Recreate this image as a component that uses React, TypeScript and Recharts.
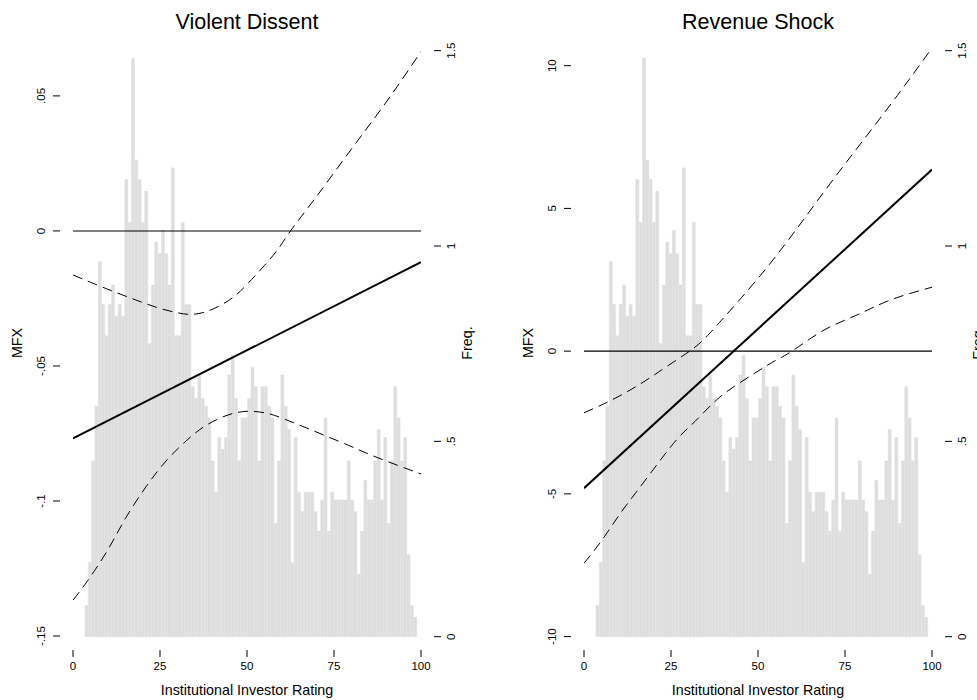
import React from "react";
import { ComposedChart, Bar, Line, XAxis, YAxis } from "recharts";

// histogram of the rating, 100 equal bins from 3.45 to 98.85 (right axis, "Freq.")
const binStart = 3.45;
const binEnd = 98.85;
const binFreq = [
  0.08, 0.19, 0.45, 0.59, 0.96, 0.85, 0.77, 0.85, 0.9, 0.82,
  0.85, 0.82, 1.17, 1.06, 1.48, 1.22, 1.17, 1.06, 1.14, 0.75,
  0.9, 1.01, 0.98, 1.04, 0.98, 0.9, 1.2, 0.77, 0.77, 1.06,
  0.85, 0.85, 0.64, 0.61, 0.67, 0.61, 0.59, 0.56, 0.45, 0.37,
  0.51, 0.48, 0.51, 0.67, 0.72, 0.61, 0.45, 0.56, 0.56, 0.61,
  0.69, 0.64, 0.45, 0.64, 0.64, 0.59, 0.56, 0.29, 0.45, 0.67,
  0.59, 0.53, 0.19, 0.51, 0.37, 0.32, 0.37, 0.37, 0.37, 0.32,
  0.27, 0.35, 0.56, 0.27, 0.37, 0.35, 0.35, 0.35, 0.35, 0.45,
  0.35, 0.32, 0.16, 0.27, 0.4, 0.35, 0.35, 0.45, 0.53, 0.35,
  0.51, 0.29, 0.45, 0.64, 0.56, 0.45, 0.51, 0.21, 0.08, 0.05,
];

const ratingTicks = [0, 25, 50, 75, 100];
const freqTicks = [0, 0.5, 1, 1.5];
const freqTickLabels = ["0", ".5", "1", "1.5"];

// zero reference line
const zeroLine = [
  [0, 0],
  [100, 0],
];

// Violent Dissent
const vdTicks = [-0.15, -0.1, -0.05, 0, 0.05];
const vdTickLabels = ["-.15", "-.1", "-.05", "0", ".05"];
const vdEstimate = [
  [0, -0.0768],
  [100, -0.0116],
];
const vdUpper = [
  [0, -0.0163], [5, -0.019], [10, -0.0216], [15, -0.0241], [20, -0.0265],
  [25, -0.0287], [30, -0.0303], [34, -0.0309], [38, -0.03], [42, -0.0278],
  [46, -0.0246], [50, -0.0198], [55, -0.0128], [59, -0.0066], [62.5, 0],
  [70, 0.0128], [80, 0.0303], [90, 0.0477], [100, 0.0664],
];
const vdLower = [
  [0, -0.1367], [4, -0.1299], [10, -0.1181], [15, -0.1066], [21, -0.0947],
  [27, -0.0848], [33, -0.0772], [38, -0.0722], [44, -0.0684], [50, -0.0668],
  [56, -0.0676], [61, -0.0698], [67, -0.0729], [73, -0.0761], [79, -0.0793],
  [84, -0.0821], [90, -0.0852], [96, -0.0881], [100, -0.09],
];

// Revenue Shock
const rsTicks = [-10, -5, 0, 5, 10];
const rsTickLabels = ["-10", "-5", "0", "5", "10"];
const rsEstimate = [
  [0, -4.8],
  [100, 6.36],
];
const rsUpper = [
  [0, -2.16], [6, -1.83], [12, -1.45], [18, -1.01], [24, -0.52],
  [30.7, 0.03], [35, 0.48], [40, 1.15], [50, 2.55], [60, 4.1],
  [70, 5.75], [80, 7.35], [90, 8.95], [100, 10.62],
];
const rsLower = [
  [0, -7.43], [5, -6.65], [10, -5.76], [15, -4.94], [21, -3.97],
  [27, -3.05], [32, -2.45], [38, -1.72], [44, -1.17], [50, -0.7],
  [55, -0.33], [60, 0.02], [69, 0.74], [78.5, 1.27], [88, 1.79], [100, 2.24],
];

const FONT = "'Liberation Sans', Arial, Helvetica, sans-serif";
const PLOT_TOP = 40;
const PLOT_BOTTOM = 646;
const H = 700;

const binWidth = (binEnd - binStart) / binFreq.length;
const histData = binFreq.map((f, i) => ({ bin: (binStart + binWidth * (i + 0.5)).toFixed(2), freq: f }));
const toPoints = (rows: number[][]) => rows.map(([x, y]) => ({ x, mfx: y }));

const labelFor = (ticks: number[], labels: string[], v: number) => {
  const i = ticks.findIndex((t) => Math.abs(t - v) < 1e-9);
  return i >= 0 ? labels[i] : String(v);
};

type PanelProps = {
  left: number;
  width: number;
  axisLeftW: number;
  axisRightW: number;
  mfxDomain: [number, number];
  mfxTicks: number[];
  mfxTickLabels: string[];
  estimate: number[][];
  upper: number[][];
  lower: number[][];
};

function Panel(p: PanelProps) {
  const plotLeft = p.axisLeftW;
  const plotRight = p.width - p.axisRightW;
  const pxPerUnit = (plotRight - plotLeft) / 100;

  const mfxTick = (props: any) => {
    const { y, payload } = props;
    const tx = plotLeft - 28;
    return (
      <g>
        <line x1={plotLeft - 20} x2={plotLeft - 13} y1={y} y2={y} stroke="#000" />
        <text x={tx} y={y} transform={`rotate(-90 ${tx} ${y})`} textAnchor="middle"
          fontSize={11.5} fontFamily={FONT} fill="#000">
          {labelFor(p.mfxTicks, p.mfxTickLabels, payload.value)}
        </text>
      </g>
    );
  };

  const freqTick = (props: any) => {
    const { y, payload } = props;
    const tx = plotRight + 34.5;
    return (
      <g>
        <line x1={plotRight + 13} x2={plotRight + 20} y1={y} y2={y} stroke="#000" />
        <text x={tx} y={y} transform={`rotate(-90 ${tx} ${y})`} textAnchor="middle"
          fontSize={11.5} fontFamily={FONT} fill="#000">
          {labelFor(freqTicks, freqTickLabels, payload.value)}
        </text>
      </g>
    );
  };

  const ratingTick = (props: any) => {
    const { x, payload } = props;
    return (
      <g>
        <line x1={x} x2={x} y1={PLOT_BOTTOM + 4} y2={PLOT_BOTTOM + 11} stroke="#000" />
        <text x={x} y={PLOT_BOTTOM + 24} textAnchor="middle" fontSize={11.5} fontFamily={FONT} fill="#000">
          {payload.value}
        </text>
      </g>
    );
  };

  return (
    <div style={{ position: "absolute", left: p.left, top: 0 }}>
      <ComposedChart width={p.width} height={H} data={histData} barCategoryGap={0} barGap={0}
        margin={{ top: PLOT_TOP, right: 0, bottom: 0, left: 0 }}>
        <XAxis type="number" dataKey="x" domain={[0, 100]} ticks={ratingTicks} interval={0}
          allowDataOverflow height={H - PLOT_BOTTOM} axisLine={false} tickLine={false} tick={ratingTick} />
        <XAxis xAxisId="bins" type="category" dataKey="bin" hide
          padding={{ left: binStart * pxPerUnit, right: (100 - binEnd) * pxPerUnit }} />
        <YAxis yAxisId="mfx" orientation="left" type="number" domain={p.mfxDomain} ticks={p.mfxTicks}
          interval={0} allowDataOverflow width={p.axisLeftW} axisLine={false} tickLine={false} tick={mfxTick} />
        <YAxis yAxisId="freq" orientation="right" type="number" domain={[-0.0238, 1.5273]} ticks={freqTicks}
          interval={0} allowDataOverflow width={p.axisRightW} axisLine={false} tickLine={false} tick={freqTick} />
        <Bar xAxisId="bins" yAxisId="freq" dataKey="freq" fill="#dedede" stroke="#dedede" strokeWidth={0.5}
          isAnimationActive={false} />
        <Line yAxisId="mfx" data={toPoints(zeroLine)} dataKey="mfx" type="linear" stroke="#000"
          strokeWidth={1.1} dot={false} activeDot={false} isAnimationActive={false} />
        <Line yAxisId="mfx" data={toPoints(p.upper)} dataKey="mfx" type="natural" stroke="#000"
          strokeWidth={1} strokeDasharray="10 6" dot={false} activeDot={false} isAnimationActive={false} />
        <Line yAxisId="mfx" data={toPoints(p.lower)} dataKey="mfx" type="natural" stroke="#000"
          strokeWidth={1} strokeDasharray="10 6" dot={false} activeDot={false} isAnimationActive={false} />
        <Line yAxisId="mfx" data={toPoints(p.estimate)} dataKey="mfx" type="linear" stroke="#000"
          strokeWidth={2} dot={false} activeDot={false} isAnimationActive={false} />
      </ComposedChart>
    </div>
  );
}

// titles and axis titles for both panels
function Titles() {
  const panels = [
    { title: "Violent Dissent", plotLeft: 73, plotRight: 421 },
    { title: "Revenue Shock", plotLeft: 584, plotRight: 932 },
  ];
  const mid = (PLOT_TOP + PLOT_BOTTOM) / 2;
  return (
    <svg width={977} height={H} style={{ position: "absolute", left: 0, top: 0, pointerEvents: "none" }}>
      {panels.map((pp) => {
        const cx = (pp.plotLeft + pp.plotRight) / 2;
        const mx = pp.plotLeft - 51.5;
        const fx = pp.plotRight + 51;
        return (
          <g key={pp.title} fontFamily={FONT} fill="#000">
            <text x={cx} y={29} textAnchor="middle" fontSize={21.5}>{pp.title}</text>
            <text x={cx} y={695} textAnchor="middle" fontSize={14.3}>Institutional Investor Rating</text>
            <text x={mx} y={mid} transform={`rotate(-90 ${mx} ${mid})`} textAnchor="middle" fontSize={14.3}>MFX</text>
            <text x={fx} y={mid} transform={`rotate(-90 ${fx} ${mid})`} textAnchor="middle" fontSize={14.3}>Freq.</text>
          </g>
        );
      })}
    </svg>
  );
}

export default function App() {
  return (
    <div style={{ position: "absolute", left: 0, top: 0, width: 977, height: H, background: "#fff", overflow: "hidden" }}>
      <Panel left={0} width={490} axisLeftW={73} axisRightW={69} mfxDomain={[-0.1537, 0.0707]}
        mfxTicks={vdTicks} mfxTickLabels={vdTickLabels} estimate={vdEstimate} upper={vdUpper} lower={vdLower} />
      <Panel left={490} width={487} axisLeftW={94} axisRightW={45} mfxDomain={[-10.33, 10.9]}
        mfxTicks={rsTicks} mfxTickLabels={rsTickLabels} estimate={rsEstimate} upper={rsUpper} lower={rsLower} />
      <Titles />
    </div>
  );
}
